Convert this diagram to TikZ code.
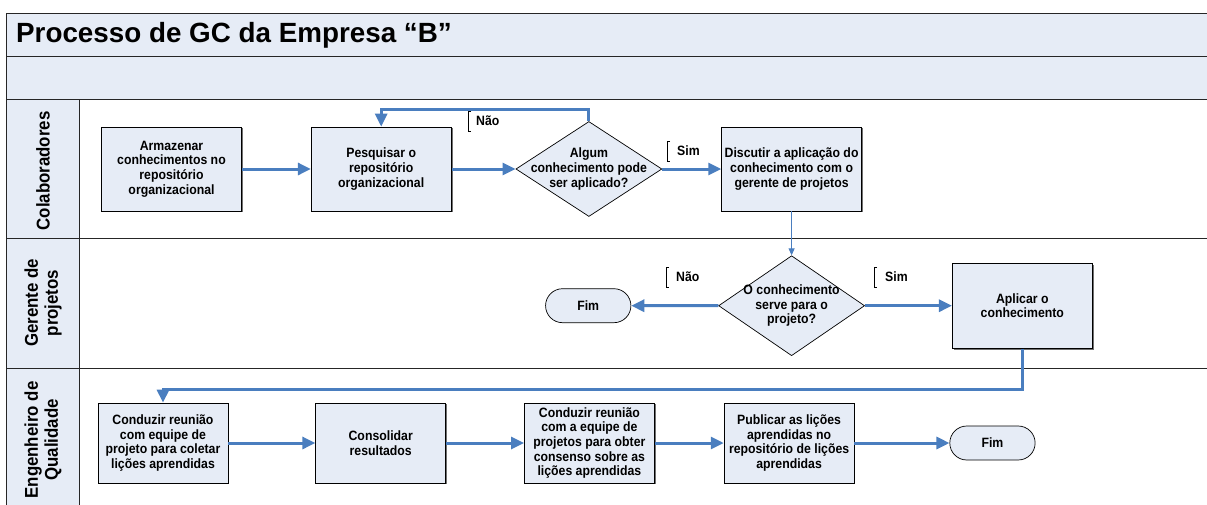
\documentclass[tikz,border=0pt]{standalone}
\usepackage{fontspec}
\setmainfont{Liberation Sans}
\newfontfamily\shapefont[FakeStretch=0.91]{Liberation Sans}
\usetikzlibrary{%
	positioning,
	arrows.meta,
	shapes.geometric,
	shapes.misc,
	shadows
}
\definecolor{laneblue}{HTML}{E6ECF6}
\definecolor{flowblue}{HTML}{4A7EBF}

\begin{document}
\begin{tikzpicture}[x=1pt,y=-1pt,
		Lane/.style={draw=black!85,line width=1pt},
		LaneHead/.style={Lane,fill=laneblue},
		LaneTitle/.style={rotate=90,align=center,inner sep=0pt,font=\shapefont\fontsize{18.5}{20}\selectfont\bfseries},
		Task/.style={draw=black,line width=0.7pt,fill=laneblue,align=center,inner sep=2pt,minimum width=140pt,minimum height=84pt,font=\shapefont\fontsize{13.5}{14.7}\selectfont\bfseries,drop shadow={shadow xshift=1.3pt,shadow yshift=-1.3pt,fill=black!70,opacity=.8}},
		TaskQ/.style={Task,minimum width=130pt,minimum height=80pt},
		Decision/.style={diamond,draw=black,line width=0.7pt,fill=laneblue,align=center,aspect=1.5,inner sep=-10pt,minimum width=146pt,font=\shapefont\fontsize{13.5}{14.7}\selectfont\bfseries},
		Terminal/.style={rounded rectangle,draw=black,line width=0.7pt,fill=laneblue,minimum width=92pt,minimum height=34pt,font=\shapefont\fontsize{13.5}{14.7}\selectfont\bfseries},
		Cond/.style={anchor=west,inner xsep=0pt,minimum height=20pt,font=\shapefont\fontsize{13.5}{14.7}\selectfont\bfseries},
		Flow/.style={draw=flowblue,line width=3pt,-{Triangle[length=13pt,width=12pt]}},
		ThinFlow/.style={draw=flowblue,line width=1pt,-{Triangle[length=7pt,width=6pt]}}
	]
	\clip (0,0) rectangle (1207,504);
	
	% header and lanes
	\draw[LaneHead] (6,13) rectangle (1215,56);
	\draw[LaneHead] (6,56) rectangle (1215,99);
	\node(titulo) [anchor=west,inner sep=0pt,font=\fontsize{27.8}{30}\selectfont\bfseries] at (16,35) {Processo de GC da Empresa “B”};
	
	\draw[Lane] (6,99) rectangle (1215,238);
	\draw[LaneHead] (6,99) rectangle (79,238);
	\node(lane-colab) [LaneTitle] at (43,171) {Colaboradores};
	
	\draw[Lane] (6,238) rectangle (1215,368);
	\draw[LaneHead] (6,238) rectangle (79,368);
	\node(lane-gerente) [LaneTitle] at (43,303) {Gerente de\\projetos};
	
	\draw[Lane] (6,368) rectangle (1215,515);
	\draw[LaneHead] (6,368) rectangle (79,515);
	\node(lane-eng) [LaneTitle] at (43,440) {Engenheiro de\\Qualidade};
	
	% Colaboradores
	\node(armazenar) [Task] at (171.5,169) {Armazenar\\conhecimentos no\\repositório\\organizacional};
	\node(pesquisar) [Task, right=69pt of armazenar] {Pesquisar o\\repositório\\organizacional};
	\node(algum) [Decision, minimum height=95pt, right=64pt of pesquisar] {Algum\\conhecimento pode\\ser aplicado?};
	\node(discutir) [Task, right=59pt of algum] {Discutir a aplicação do\\conhecimento com o\\gerente de projetos};
	
	\draw[Flow] (armazenar) -- (pesquisar);
	\draw[Flow] (pesquisar) -- (algum);
	\draw[Flow] (algum.north) -- ++(0,-12) -| (pesquisar.north);
	\draw[Flow] (algum) -- (discutir);
	
	\node(nao1) [Cond] at (476,121) {Não};
	\draw ([xshift=-5pt]nao1.north west) -- ([xshift=-8pt]nao1.north west) -- ([xshift=-8pt]nao1.south west) -- ([xshift=-5pt]nao1.south west);
	\node(sim1) [Cond] at (677,151) {Sim};
	\draw ([xshift=-7pt]sim1.north west) -- ([xshift=-10pt]sim1.north west) -- ([xshift=-10pt]sim1.south west) -- ([xshift=-7pt]sim1.south west);
	
	% Gerente de projetos
	\node(servir) [Decision, aspect=1.2, minimum height=100pt, below=44pt of discutir] {O conhecimento\\serve para o\\projeto?};
	\node(fim1) [Terminal, left=87pt of servir] {Fim};
	\node(aplicar) [Task, minimum height=85pt, right=87pt of servir] {Aplicar o\\conhecimento};
	
	\draw[ThinFlow] (discutir) -- (servir);
	\draw[Flow] (servir) -- (fim1);
	\draw[Flow] (servir) -- (aplicar);
	
	\node(nao2) [Cond] at (676,277) {Não};
	\draw ([xshift=-7pt]nao2.north west) -- ([xshift=-10pt]nao2.north west) -- ([xshift=-10pt]nao2.south west) -- ([xshift=-7pt]nao2.south west);
	\node(sim2) [Cond] at (885,277) {Sim};
	\draw ([xshift=-8pt]sim2.north west) -- ([xshift=-11pt]sim2.north west) -- ([xshift=-11pt]sim2.south west) -- ([xshift=-8pt]sim2.south west);
	
	% Engenheiro de Qualidade
	\node(conduzir1) [TaskQ] at (163,443) {Conduzir reunião\\com equipe de\\projeto para coletar\\lições aprendidas};
	\node(consolidar) [TaskQ, right=87pt of conduzir1] {Consolidar\\resultados};
	\node(conduzir2) [TaskQ, right=78pt of consolidar] {Conduzir reunião\\com a equipe de\\projetos para obter\\consenso sobre as\\lições aprendidas};
	\node(publicar) [TaskQ, right=69pt of conduzir2] {Publicar as lições\\aprendidas no\\repositório de lições\\aprendidas};
	\node(fim2) [Terminal, right=95pt of publicar] {Fim};
	
	\draw[Flow] (aplicar.south) -- ++(0,41) -| (conduzir1.north);
	\draw[Flow] (conduzir1) -- (consolidar);
	\draw[Flow] (consolidar) -- (conduzir2);
	\draw[Flow] (conduzir2) -- (publicar);
	\draw[Flow] (publicar) -- (fim2);
	
\end{tikzpicture}
\end{document}
